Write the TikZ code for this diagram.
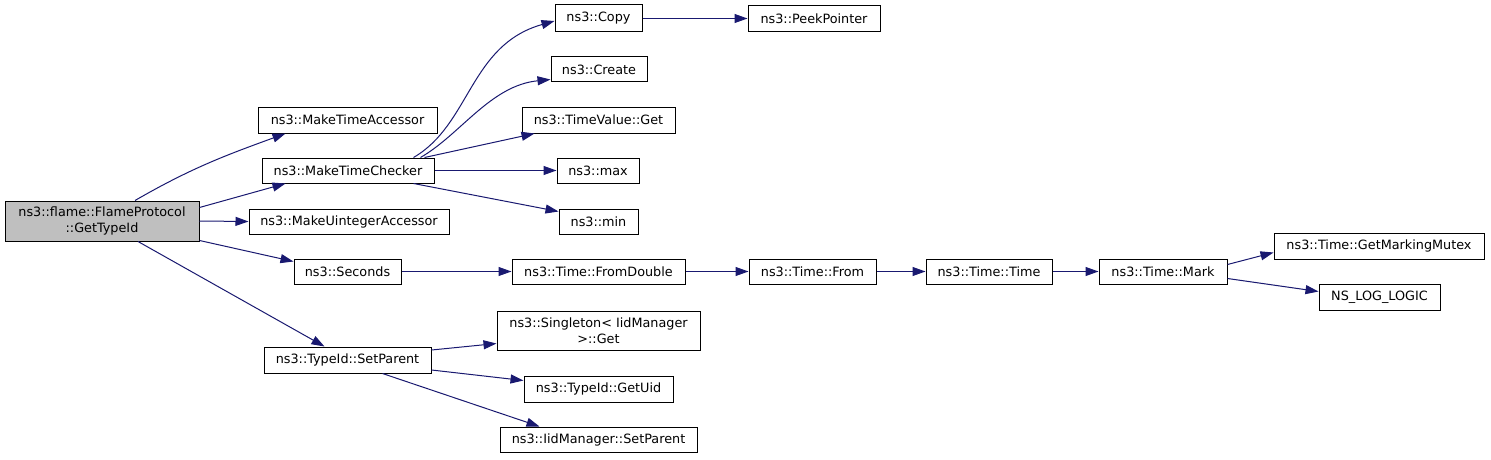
\documentclass[tikz,border=0pt]{standalone}
\usepackage{fontspec}
\setmainfont{DejaVu Sans}
\usetikzlibrary{arrows.meta,calc}
\definecolor{edgec}{HTML}{191970}
\definecolor{maingray}{HTML}{BFBFBF}
\tikzset{
  fn/.style={draw=black, line width=1pt, fill=white, inner sep=0pt, align=center,
    font=\fontsize{12.8}{16}\selectfont, text=black},
  mainfn/.style={fn, fill=maingray},
  e/.style={draw=edgec, line width=1pt, -{Triangle[length=13pt,width=9pt]}},
}
\begin{document}
\begin{tikzpicture}[x=1pt,y=1pt]
\useasboundingbox (0,0) rectangle (1491,459);
% nodes (y up: y = 459 - pixel y)
\node[mainfn, minimum width=194pt, minimum height=40pt] (main) at (102,238) {ns3::flame::FlameProtocol\\::GetTypeId};
\node[fn, minimum width=179pt, minimum height=26pt] (mta) at (347.5,339) {ns3::MakeTimeAccessor};
\node[fn, minimum width=172pt, minimum height=25pt] (mtc) at (348,288.5) {ns3::MakeTimeChecker};
\node[fn, minimum width=200pt, minimum height=25pt] (mua) at (349,237.5) {ns3::MakeUintegerAccessor};
\node[fn, minimum width=107pt, minimum height=25pt] (sec) at (347.5,187.5) {ns3::Seconds};
\node[fn, minimum width=167pt, minimum height=26pt] (tsp) at (347.5,99) {ns3::TypeId::SetParent};
\node[fn, minimum width=87pt, minimum height=27pt] (copy) at (598.5,440.5) {ns3::Copy};
\node[fn, minimum width=96pt, minimum height=25pt] (create) at (599,389.5) {ns3::Create};
\node[fn, minimum width=153pt, minimum height=26pt] (tvg) at (598.5,339) {ns3::TimeValue::Get};
\node[fn, minimum width=82pt, minimum height=25pt] (max) at (598,288.5) {ns3::max};
\node[fn, minimum width=79pt, minimum height=25pt] (min) at (598.5,237.5) {ns3::min};
\node[fn, minimum width=173pt, minimum height=25pt] (fd) at (598.5,187.5) {ns3::Time::FromDouble};
\node[fn, minimum width=203pt, minimum height=39pt] (single) at (598.5,128.5) {ns3::Singleton< IidManager\\>::Get};
\node[fn, minimum width=149pt, minimum height=26pt] (uid) at (598.5,70) {ns3::TypeId::GetUid};
\node[fn, minimum width=197pt, minimum height=25pt] (iid) at (598.5,19.5) {ns3::IidManager::SetParent};
\node[fn, minimum width=132pt, minimum height=26pt] (peek) at (814,440) {ns3::PeekPointer};
\node[fn, minimum width=127pt, minimum height=25pt] (from) at (812.5,187.5) {ns3::Time::From};
\node[fn, minimum width=126pt, minimum height=25pt] (ttime) at (989,187.5) {ns3::Time::Time};
\node[fn, minimum width=128pt, minimum height=25pt] (mark) at (1163,187.5) {ns3::Time::Mark};
\node[fn, minimum width=210pt, minimum height=26pt] (gmm) at (1379,213) {ns3::Time::GetMarkingMutex};
\node[fn, minimum width=121pt, minimum height=26pt] (nslog) at (1379.5,162) {NS\_LOG\_LOGIC};
% edges from main
\draw[e] ($(main.north)+(33,0)$) to[out=30,in=200] ($(mta.south west)+(28,0)$);
\draw[e] ($(main.north east)+(0,-7)$) -- ($(mtc.south west)+(24,0)$);
\draw[e] (main.east) -- (mua.west);
\draw[e] ($(main.south east)+(0,1)$) -- ($(sec.north west)+(0,-3)$);
\draw[e] ($(main.south)+(36,0)$) -- ($(tsp.north west)+(61,0)$);
% edges from MakeTimeChecker
\draw[e] ($(mtc.north east)+(-21,0)$) .. controls +(57,33) and +(-85,-24) .. ($(copy.west)+(0,-2.5)$);
\draw[e] ($(mtc.north east)+(-14,0)$) .. controls +(40,23) and +(-60,-6) .. ($(create.south west)+(0,3)$);
\draw[e] ($(mtc.north east)+(-10,0)$) -- ($(tvg.south west)+(13,0)$);
\draw[e] (mtc.east) -- (max.west);
\draw[e] ($(mtc.south east)+(-21,0)$) -- ($(min.north west)+(0,-3)$);
% chain
\draw[e] (copy.east) -- (peek.west |- copy.east);
\draw[e] (sec.east) -- (fd.west);
\draw[e] (fd.east) -- (from.west);
\draw[e] (from.east) -- (ttime.west);
\draw[e] (ttime.east) -- (mark.west);
\draw[e] ($(mark.east)+(0,7)$) -- ($(gmm.south west)+(0,7)$);
\draw[e] ($(mark.east)+(0,-7)$) -- ($(nslog.north west)+(0,-8)$);
% SetParent
\draw[e] ($(tsp.east)+(0,10)$) -- ($(single.south west)+(0,7)$);
\draw[e] ($(tsp.east)+(0,-10)$) -- ($(uid.north west)+(0,-5)$);
\draw[e] ($(tsp.south east)+(-49,0)$) -- ($(iid.north west)+(40,0)$);
\end{tikzpicture}
\end{document}
